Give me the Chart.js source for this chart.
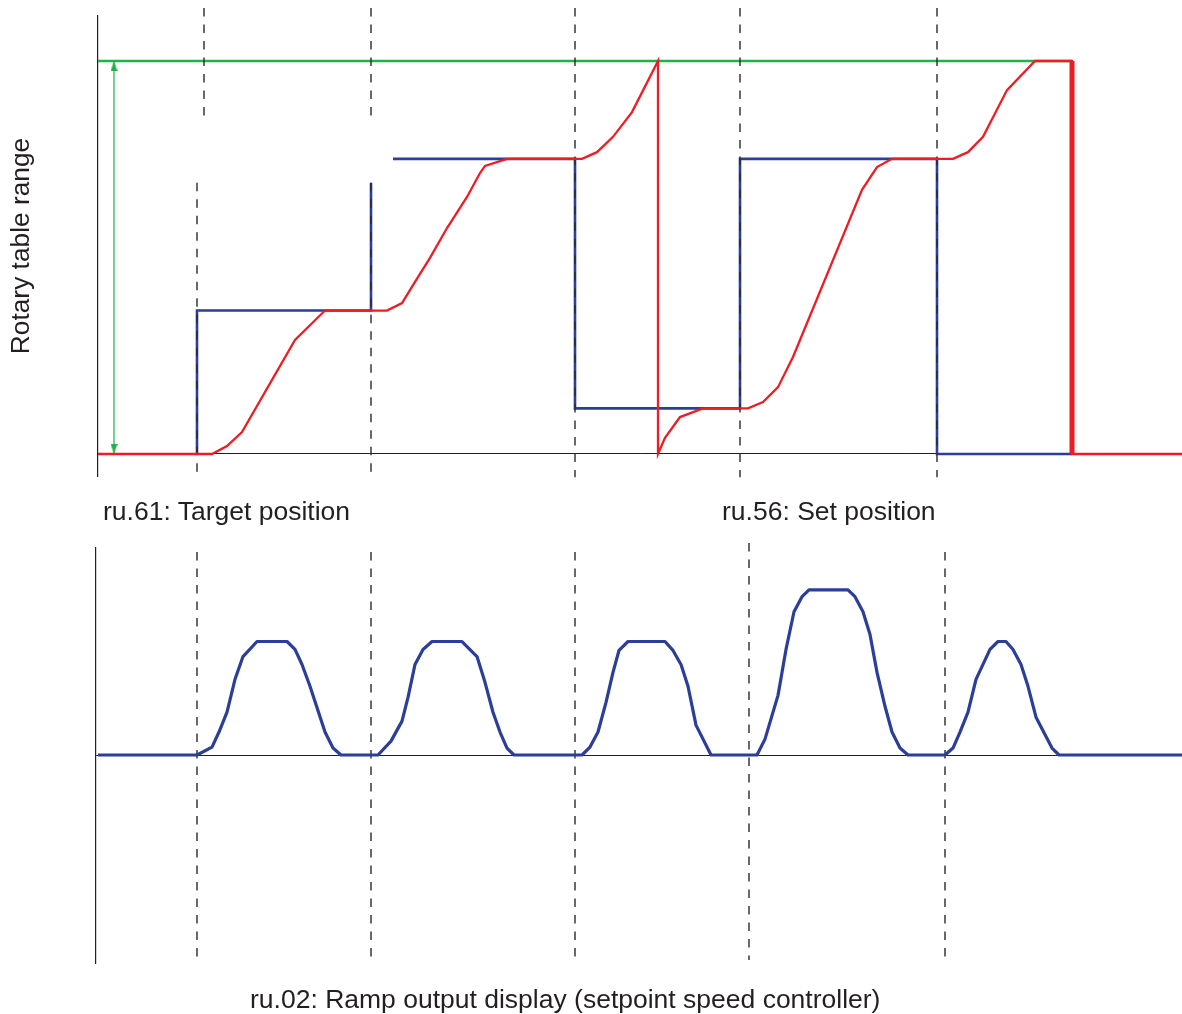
<!DOCTYPE html>
<html>
<head>
<meta charset="utf-8">
<script src="https://cdn.jsdelivr.net/npm/chart.js@4.4.1/dist/chart.umd.min.js"></script>
<style>
  body { margin: 0; background: #fff; }
  #wrap { position: relative; width: 1182px; height: 1014px; overflow: hidden; }
  canvas { position: absolute; left: 0; top: 0; }
  .lbl {
    position: absolute;
    font-family: "Liberation Sans", Arial, sans-serif;
    font-size: 26.5px;
    line-height: 26px;
    color: #231f20;
    white-space: nowrap;
  }
</style>
</head>
<body>
<div id="wrap">
  <canvas id="topChart" width="1182" height="1014"></canvas>
  <canvas id="bottomChart" width="1182" height="1014"></canvas>
  <div class="lbl" style="left:103px; top:498px;">ru.61: Target position</div>
  <div class="lbl" style="left:722px; top:498px;">ru.56: Set position</div>
  <div class="lbl" style="left:250px; top:986px;">ru.02: Ramp output display (setpoint speed controller)</div>
</div>
<script>
// time in ms, position in % of rotary table range
const targetPosition = [
  [99, 0], [99, 36.5], [273, 36.5], [273, 69.0], null,
  [295, 75.1], [477, 75.1], [477, 11.6], [642, 11.6], [642, 75.1],
  [839, 75.1], [839, 0], [974, 0]
];
const setPosition = [
  [0, 0], [114, 0], [129, 2.0], [144, 5.6], [197, 29.0], [227, 36.5],
  [289, 36.5], [304, 38.4], [317, 43.8], [332, 49.9], [349, 57.5],
  [369, 65.4], [382, 71.5], [387, 73.3], [409, 75.1], [484, 75.1],
  [499, 76.8], [515, 80.7], [534, 87.0], [560, 100], [560, 0],
  [567, 4.1], [582, 9.4], [605, 11.6], [650, 11.6], [665, 13.2],
  [680, 17.0], [695, 24.7], [764, 67.2], [779, 73.0], [794, 75.1],
  [855, 75.1], [870, 76.8], [885, 80.7], [909, 92.6], [937, 100],
  [974, 100], [974, 0], [1084, 0]
];
const resetJump = [[974, 100], [974, 0]];
const tableRange = [[0, 100], [974, 100]];
const rangeArrow = [[16, 100], [16, 0]];
const rangeArrowHeads = [[16, 98.7], [16, 1.3]];
// dashed event markers: [time, from, to]
const topMarkers = [
  [106, 113.5, 85.0], [99, 69.0, -5.9],
  [273, 113.5, 85.0], [273, 69.0, -5.9],
  [477, 113.5, -5.9], [642, 113.5, -5.9], [839, 113.5, -5.9]
];

// speed setpoint, % of max
const rampOutput = [
  [0, 0], [99, 0], [114, 4.8], [121, 13.9], [129, 25.9], [137, 45.8],
  [145, 59.6], [159, 68.7], [189, 68.7], [197, 63.9], [204, 54.8],
  [212, 41.6], [227, 13.9], [235, 4.2], [243, 0], [280, 0], [293, 8.4],
  [304, 20.5], [310, 34.9], [317, 54.8], [325, 63.9], [334, 68.7],
  [364, 68.7], [379, 59.6], [387, 44.0], [395, 25.9], [402, 13.9],
  [409, 4.2], [416, 0], [484, 0], [492, 4.8], [500, 13.9], [508, 31.9],
  [515, 50.0], [521, 63.3], [530, 68.7], [567, 68.7], [575, 63.3],
  [583, 54.8], [590, 41.6], [598, 18.1], [613, 0], [659, 0], [667, 9.6],
  [680, 36.1], [688, 63.9], [696, 86.7], [704, 95.8], [711, 100],
  [750, 100], [757, 95.8], [765, 86.7], [772, 72.9], [779, 50.0],
  [787, 29.5], [794, 13.9], [802, 4.2], [810, 0], [847, 0], [855, 4.2],
  [862, 13.9], [870, 25.9], [878, 45.8], [892, 63.9], [900, 68.7],
  [908, 68.7], [915, 63.9], [923, 54.8], [930, 41.6], [938, 22.9],
  [954, 4.2], [961, 0], [1084, 0]
];
const bottomMarkers = [
  [99, 122.9, -124.1], [273, 122.9, -124.1], [477, 122.9, -124.1],
  [651, 128.3, -124.1], [847, 122.9, -124.1]
];

const RED = "#ee1c24";
const BLUE = "#2b3f98";
const GREEN = "#1fb14a";
const INK = "#231f20";
const DASH = "#2a2a2a";

function toPoints(list) {
  return list.map((p) => (p ? { x: p[0], y: p[1] } : { x: NaN, y: null }));
}
function markerPoints(list) {
  const out = [];
  list.forEach((m) => {
    out.push({ x: m[0], y: m[1] }, { x: m[0], y: m[2] }, { x: NaN, y: null });
  });
  return out;
}
function arrowHead() {
  const c = document.createElement("canvas");
  c.width = 7;
  c.height = 10;
  const g = c.getContext("2d");
  g.fillStyle = GREEN;
  g.beginPath();
  g.moveTo(3.5, 0);
  g.lineTo(7, 10);
  g.lineTo(0, 10);
  g.closePath();
  g.fill();
  return c;
}

const lineBase = {
  pointRadius: 0,
  borderJoinStyle: "miter",
  borderCapStyle: "butt",
  spanGaps: false,
  clip: false,
};

function yAxis(min, max, width, title) {
  return {
    min: min,
    max: max,
    ticks: { display: false },
    afterBuildTicks: (scale) => {
      scale.ticks = [{ value: 0 }];
    },
    afterFit: (scale) => {
      scale.width = width;
    },
    grid: {
      drawTicks: false,
      color: (ctx) => (ctx.tick && ctx.tick.value === 0 ? INK : "transparent"),
      lineWidth: 1,
    },
    border: { display: true, color: INK, width: 1.2 },
    title: title,
  };
}

new Chart(document.getElementById("topChart"), {
  type: "line",
  data: {
    datasets: [
      { ...lineBase, data: toPoints(resetJump), borderColor: RED, borderWidth: 5, order: 0 },
      { ...lineBase, data: toPoints(setPosition), borderColor: RED, borderWidth: 2.3, order: 1 },
      { ...lineBase, data: markerPoints(topMarkers), borderColor: DASH, borderWidth: 1.4, borderDash: [8.5, 8], order: 2 },
      { ...lineBase, data: toPoints(tableRange), borderColor: GREEN, borderWidth: 2.7, order: 3 },
      { ...lineBase, data: toPoints(rangeArrow), borderColor: GREEN, borderWidth: 1.2, order: 3 },
      {
        ...lineBase,
        data: toPoints(rangeArrowHeads),
        showLine: false,
        pointRadius: 5,
        pointStyle: arrowHead(),
        rotation: [0, 180],
        order: 3,
      },
      { ...lineBase, data: toPoints(targetPosition), borderColor: BLUE, borderWidth: 2.6, order: 4 },
    ],
  },
  options: {
    responsive: false,
    animation: false,
    devicePixelRatio: 1,
    layout: { autoPadding: false, padding: { top: 16, right: 0, bottom: 538, left: 0 } },
    plugins: { legend: { display: false }, tooltip: { enabled: false } },
    scales: {
      x: { type: "linear", min: 0, max: 1084, display: false },
      y: yAxis(-5.6, 111.45, 98, {
        display: true,
        text: "Rotary table range",
        color: INK,
        font: { family: "'Liberation Sans', Arial, sans-serif", size: 26.3 },
        padding: { top: 6, bottom: 0 },
      }),
    },
  },
});

new Chart(document.getElementById("bottomChart"), {
  type: "line",
  data: {
    datasets: [
      { ...lineBase, data: markerPoints(bottomMarkers), borderColor: DASH, borderWidth: 1.4, borderDash: [8.5, 8], order: 1 },
      { ...lineBase, data: toPoints(rampOutput), borderColor: BLUE, borderWidth: 3.2, borderJoinStyle: "round", order: 0 },
    ],
  },
  options: {
    responsive: false,
    animation: false,
    devicePixelRatio: 1,
    layout: { autoPadding: false, padding: { top: 548, right: 0, bottom: 51, left: 0 } },
    plugins: { legend: { display: false }, tooltip: { enabled: false } },
    scales: {
      x: { type: "linear", min: -2, max: 1084, display: false },
      y: yAxis(-125.9, 125.3, 96, { display: false }),
    },
  },
});
</script>
</body>
</html>
